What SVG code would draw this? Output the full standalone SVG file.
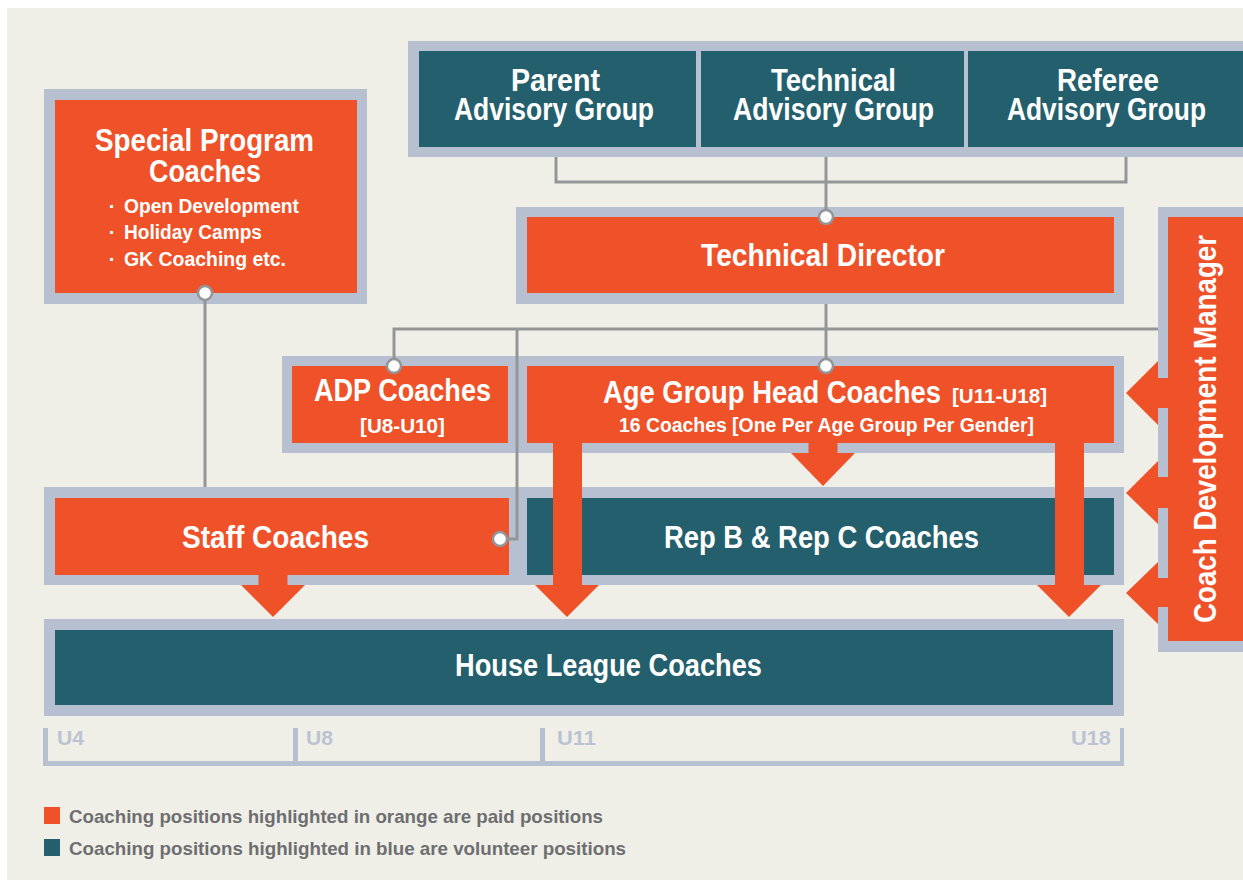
<svg xmlns="http://www.w3.org/2000/svg" width="1243" height="880" viewBox="0 0 1243 880">
  <style>
    .frame { fill: #b6c0d0; }
    .paid { fill: #ef5228; }
    .vol { fill: #245f6d; }
    .t { font-family: "Liberation Sans", Arial, sans-serif; font-weight: bold; fill: #ffffff; }
    .big { font-size: 31px; }
    .sm { font-size: 20px; }
    .mid { text-anchor: middle; }
    .axis { font-family: "Liberation Sans", Arial, sans-serif; font-weight: bold; font-size: 20px; fill: #bac3d3; }
    .legend { font-family: "Liberation Sans", Arial, sans-serif; font-weight: bold; font-size: 19px; fill: #6d6e71; }
    .wire { fill: none; stroke: #939598; stroke-width: 3; }
    .dot { fill: #ffffff; stroke: #939598; stroke-width: 2.5; }
    .arrow { fill: #ef5228; }
  </style>

  <!-- page background -->
  <rect x="0" y="0" width="1243" height="880" fill="#ffffff"/>
  <rect x="7" y="8" width="1236" height="872" fill="#f0efe7"/>

  <!-- grey frames behind the boxes -->
  <g id="frames">
    <rect class="frame" x="44" y="89" width="323" height="215"/>
    <rect class="frame" x="408" y="41" width="835" height="116"/>
    <rect class="frame" x="516" y="207" width="608" height="97"/>
    <rect class="frame" x="282" y="356" width="842" height="97"/>
    <rect class="frame" x="44" y="487" width="1080" height="98"/>
    <rect class="frame" x="44" y="619" width="1080" height="97"/>
    <rect class="frame" x="1158" y="207" width="85" height="445"/>
  </g>

  <g id="special-program">
    <rect class="paid" x="55" y="100" width="302" height="193"/>
    <text class="t big mid" x="204.5" y="151" textLength="219" lengthAdjust="spacingAndGlyphs">Special Program</text>
    <text class="t big mid" x="205" y="182" textLength="112" lengthAdjust="spacingAndGlyphs">Coaches</text>
    <text class="t sm mid" x="112" y="213">·</text>
    <text class="t sm" x="124" y="213" textLength="175" lengthAdjust="spacingAndGlyphs">Open Development</text>
    <text class="t sm mid" x="112" y="239">·</text>
    <text class="t sm" x="124" y="239" textLength="138" lengthAdjust="spacingAndGlyphs">Holiday Camps</text>
    <text class="t sm mid" x="112" y="266">·</text>
    <text class="t sm" x="124" y="266" textLength="162" lengthAdjust="spacingAndGlyphs">GK Coaching etc.</text>
  </g>

  <g id="parent-advisory">
    <rect class="vol" x="419" y="51" width="277" height="96"/>
    <text class="t big mid" x="555.5" y="91" textLength="89" lengthAdjust="spacingAndGlyphs">Parent</text>
    <text class="t big mid" x="554" y="120" textLength="200" lengthAdjust="spacingAndGlyphs">Advisory Group</text>
  </g>

  <g id="technical-advisory">
    <rect class="vol" x="701" y="51" width="263" height="96"/>
    <text class="t big mid" x="833.5" y="91" textLength="125" lengthAdjust="spacingAndGlyphs">Technical</text>
    <text class="t big mid" x="833.5" y="120" textLength="201" lengthAdjust="spacingAndGlyphs">Advisory Group</text>
  </g>

  <g id="referee-advisory">
    <rect class="vol" x="968" y="51" width="275" height="96"/>
    <text class="t big mid" x="1108" y="91" textLength="102" lengthAdjust="spacingAndGlyphs">Referee</text>
    <text class="t big mid" x="1106.5" y="120" textLength="199" lengthAdjust="spacingAndGlyphs">Advisory Group</text>
  </g>

  <g id="technical-director">
    <rect class="paid" x="527" y="217" width="587" height="76"/>
    <text class="t big mid" x="823" y="266" textLength="244" lengthAdjust="spacingAndGlyphs">Technical Director</text>
  </g>

  <g id="adp-coaches">
    <rect class="paid" x="292" y="366" width="216" height="77"/>
    <text class="t big mid" x="402.5" y="401" textLength="177" lengthAdjust="spacingAndGlyphs">ADP Coaches</text>
    <text class="t sm mid" x="402.5" y="433" textLength="85" lengthAdjust="spacingAndGlyphs">[U8-U10]</text>
  </g>

  <g id="age-group-head-coaches">
    <rect class="paid" x="527" y="366" width="587" height="77"/>
    <text class="t big" y="403"><tspan x="603" textLength="338" lengthAdjust="spacingAndGlyphs">Age Group Head Coaches</tspan><tspan class="sm" x="952" textLength="95" lengthAdjust="spacingAndGlyphs">[U11-U18]</tspan></text>
    <text class="t sm" x="619" y="432" textLength="415" lengthAdjust="spacingAndGlyphs">16 Coaches [One Per Age Group Per Gender]</text>
  </g>

  <g id="staff-coaches">
    <rect class="paid" x="55" y="498" width="454" height="77"/>
    <text class="t big" x="182" y="548" textLength="187" lengthAdjust="spacingAndGlyphs">Staff Coaches</text>
  </g>

  <g id="rep-coaches">
    <rect class="vol" x="527" y="498" width="587" height="77"/>
    <text class="t big" x="664" y="548" textLength="315" lengthAdjust="spacingAndGlyphs">Rep B &amp; Rep C Coaches</text>
  </g>

  <g id="house-league-coaches">
    <rect class="vol" x="55" y="630" width="1058" height="75"/>
    <text class="t big" x="455" y="676" textLength="307" lengthAdjust="spacingAndGlyphs">House League Coaches</text>
  </g>

  <g id="coach-development-manager">
    <rect class="paid" x="1168" y="217" width="75" height="424"/>
    <text class="t big" transform="translate(1216 623) rotate(-90)" x="0" y="0" textLength="388" lengthAdjust="spacingAndGlyphs">Coach Development Manager</text>
  </g>

  <!-- reporting lines and flow arrows -->
  <g id="connectors">
    <path class="wire" d="M556 157V182H1126V157M826 157V217"/>
    <path class="wire" d="M826 304V366M394 366V329H1158M517 329V539H500"/>
    <path class="wire" d="M205 293V487"/>
    <circle class="dot" cx="826" cy="217" r="7"/>
    <circle class="dot" cx="826" cy="366" r="7"/>
    <circle class="dot" cx="394" cy="366" r="7"/>
    <circle class="dot" cx="500" cy="539" r="7"/>
    <circle class="dot" cx="205" cy="293" r="7"/>

    <!-- downward flow -->
    <polygon class="arrow" points="808.5,443 837.5,443 837.5,453 855,453 823,486 791,453 808.5,453"/>
    <polygon class="arrow" points="553,443 582,443 582,585 599,585 567,617 535,585 553,585"/>
    <polygon class="arrow" points="1055,443 1084,443 1084,585 1101,585 1069,617 1037,585 1055,585"/>
    <polygon class="arrow" points="258.5,575 287.5,575 287.5,585 305,585 273,617 241,585 258.5,585"/>

    <!-- development support arrows -->
    <polygon class="arrow" points="1126,393 1158,361 1158,378 1168,378 1168,408 1158,408 1158,425"/>
    <polygon class="arrow" points="1126,493 1158,461 1158,477 1168,477 1168,508 1158,508 1158,524"/>
    <polygon class="arrow" points="1126,593 1158,562 1158,578 1168,578 1168,607 1158,607 1158,624"/>
  </g>

  <!-- age scale -->
  <g id="age-scale">
    <path fill="#b6c0d0" d="M43 728H48V761H293V728H298V761H540V728H545V761H1120V728H1124V766H43Z"/>
    <text class="axis" x="57" y="745" textLength="27" lengthAdjust="spacingAndGlyphs">U4</text>
    <text class="axis" x="306" y="745" textLength="27" lengthAdjust="spacingAndGlyphs">U8</text>
    <text class="axis" x="557" y="745" textLength="39" lengthAdjust="spacingAndGlyphs">U11</text>
    <text class="axis" x="1071" y="745" textLength="40" lengthAdjust="spacingAndGlyphs">U18</text>
  </g>

  <g id="legend">
    <rect class="paid" x="44" y="807" width="16" height="17"/>
    <text class="legend" x="69" y="823" textLength="534" lengthAdjust="spacingAndGlyphs">Coaching positions highlighted in orange are paid positions</text>
    <rect class="vol" x="44" y="839" width="16" height="17"/>
    <text class="legend" x="69" y="855" textLength="557" lengthAdjust="spacingAndGlyphs">Coaching positions highlighted in blue are volunteer positions</text>
  </g>
</svg>
